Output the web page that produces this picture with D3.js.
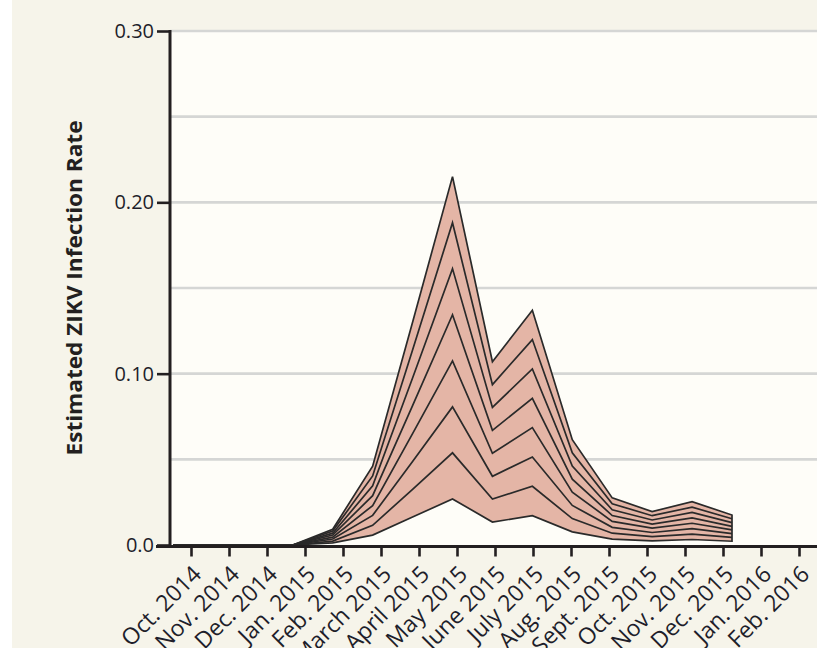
<!DOCTYPE html>
<html>
<head>
<meta charset="utf-8">
<script src="https://cdn.jsdelivr.net/npm/d3@7"></script>
<style>
  html, body { margin: 0; padding: 0; background: #ffffff; }
  svg { display: block; }
</style>
</head>
<body>
<svg id="chart" width="817" height="648"></svg>
<script>
// Month labels on the x axis
const axisMonths = ["Oct. 2014", "Nov. 2014", "Dec. 2014", "Jan. 2015", "Feb. 2015",
  "March 2015", "April 2015", "May 2015", "June 2015", "July 2015", "Aug. 2015",
  "Sept. 2015", "Oct. 2015", "Nov. 2015", "Dec. 2015", "Jan. 2016", "Feb. 2016"];

// Months with estimates (Oct. 2014 – Dec. 2015)
const dataMonths = ["Oct. 2014", "Nov. 2014", "Dec. 2014", "Jan. 2015", "Feb. 2015",
  "March 2015", "April 2015", "May 2015", "June 2015", "July 2015", "Aug. 2015",
  "Sept. 2015", "Oct. 2015", "Nov. 2015", "Dec. 2015"];

// Estimated infection rate, one array per contour line (lowest to highest)
const rate1 = [0, 0, 0, 0, 0.0012, 0.0058, 0.0163, 0.0269, 0.0134, 0.0171, 0.0077, 0.0034, 0.0024, 0.0032, 0.0022];
const rate2 = [0, 0, 0, 0, 0.0023, 0.0115, 0.0325, 0.0538, 0.0268, 0.0343, 0.0154, 0.0069, 0.0049, 0.0063, 0.0044];
const rate3 = [0, 0, 0, 0, 0.0035, 0.0173, 0.0488, 0.0806, 0.0401, 0.0514, 0.0231, 0.0103, 0.0073, 0.0095, 0.0066];
const rate4 = [0, 0, 0, 0, 0.0046, 0.0230, 0.0650, 0.1075, 0.0535, 0.0685, 0.0308, 0.0138, 0.0098, 0.0127, 0.0088];
const rate5 = [0, 0, 0, 0, 0.0058, 0.0288, 0.0813, 0.1344, 0.0669, 0.0856, 0.0384, 0.0172, 0.0122, 0.0158, 0.0109];
const rate6 = [0, 0, 0, 0, 0.0069, 0.0345, 0.0975, 0.1613, 0.0803, 0.1028, 0.0461, 0.0206, 0.0146, 0.0190, 0.0131];
const rate7 = [0, 0, 0, 0, 0.0081, 0.0403, 0.1138, 0.1881, 0.0936, 0.1199, 0.0538, 0.0241, 0.0171, 0.0221, 0.0153];
const rate8 = [0, 0, 0, 0, 0.0092, 0.0460, 0.1300, 0.2150, 0.1070, 0.1370, 0.0615, 0.0275, 0.0195, 0.0253, 0.0175];
const rateLines = [rate1, rate2, rate3, rate4, rate5, rate6, rate7, rate8];

// Y axis ticks and grid
const yTickValues = [0, 0.10, 0.20, 0.30];
const yTickLabels = ["0.0", "0.10", "0.20", "0.30"];
const gridValues = [0.05, 0.10, 0.15, 0.20, 0.25, 0.30];
const yTitle = "Estimated ZIKV Infection Rate";

const svg = d3.select("#chart");
const W = 817, H = 648;
const plot = { left: 170, right: 817, top: 31, bottom: 545 };
const ink = "#231f20";
const labelFont = "'Open Sans', 'Noto Sans', sans-serif";

const y = d3.scaleLinear().domain([0, 0.30]).range([plot.bottom, plot.top]);
const xAxisScale = d3.scalePoint().domain(axisMonths).range([191, 799]);
const xData = d3.scalePoint().domain(dataMonths).range([173, 732]);

// Backgrounds
svg.append("rect").attr("x", 12).attr("y", 0).attr("width", W - 12).attr("height", H)
  .attr("fill", "#f6f4ea");
svg.append("rect").attr("x", plot.left).attr("y", plot.top)
  .attr("width", plot.right - plot.left).attr("height", plot.bottom - plot.top)
  .attr("fill", "#fefdf8");

// Horizontal grid
svg.append("g").selectAll("line").data(gridValues).join("line")
  .attr("x1", plot.left).attr("x2", plot.right)
  .attr("y1", d => y(d)).attr("y2", d => y(d))
  .attr("stroke", "#d5d6d5").attr("stroke-width", 2.6);

// Shaded band between the lowest and highest lines
const band = d3.area()
  .x((d, i) => xData(dataMonths[i]))
  .y0((d, i) => y(rate1[i]))
  .y1((d, i) => y(rate8[i]));
svg.append("path").datum(rate8)
  .attr("d", band)
  .attr("fill", "#e4b5a6")
  .attr("stroke", "#2a2a2a").attr("stroke-width", 1.7).attr("stroke-linejoin", "miter");

// Interior lines
const line = d3.line()
  .x((d, i) => xData(dataMonths[i]))
  .y(d => y(d));
svg.append("g").selectAll("path").data(rateLines.slice(1, 7)).join("path")
  .attr("d", line)
  .attr("fill", "none")
  .attr("stroke", "#2a2a2a").attr("stroke-width", 1.7);

// Y axis
const yAxis = d3.axisLeft(y).tickValues(yTickValues)
  .tickFormat((d, i) => yTickLabels[i]).tickSize(13).tickPadding(3);
const gy = svg.append("g").attr("transform", `translate(${plot.left},0)`).call(yAxis);
gy.select(".domain").remove();
gy.selectAll(".tick line").attr("stroke", ink).attr("stroke-width", 2.6);
gy.selectAll(".tick text").attr("fill", "#1e1e2a")
  .style("font-family", labelFont).style("font-size", "20px");
svg.append("line").attr("x1", plot.left).attr("x2", plot.left)
  .attr("y1", plot.top - 1).attr("y2", plot.bottom + 3)
  .attr("stroke", ink).attr("stroke-width", 3);

// X axis
const xAxis = d3.axisBottom(xAxisScale).tickSize(10).tickFormat("");
const gx = svg.append("g").attr("transform", `translate(0,${plot.bottom + 1.5})`).call(xAxis);
gx.select(".domain").remove();
gx.selectAll(".tick line").attr("stroke", ink).attr("stroke-width", 2.6);
svg.append("line").attr("x1", plot.left - 14).attr("x2", plot.right)
  .attr("y1", plot.bottom + 1.5).attr("y2", plot.bottom + 1.5)
  .attr("stroke", ink).attr("stroke-width", 3);

// Rotated month labels
svg.append("g").selectAll("text").data(axisMonths).join("text")
  .attr("transform", d => `translate(${xAxisScale(d)},${plot.bottom + 19}) rotate(-45)`)
  .attr("text-anchor", "end")
  .attr("dy", "0.72em")
  .attr("fill", "#1e1e2a")
  .style("font-family", labelFont).style("font-size", "23px")
  .text(d => d);

// Y axis title
svg.append("text")
  .attr("transform", `translate(82,${(plot.top + plot.bottom) / 2}) rotate(-90)`)
  .attr("text-anchor", "middle")
  .attr("fill", ink)
  .style("font-family", labelFont).style("font-size", "22px").style("font-weight", "700")
  .attr("textLength", 335).attr("lengthAdjust", "spacingAndGlyphs")
  .text(yTitle);
</script>
</body>
</html>
